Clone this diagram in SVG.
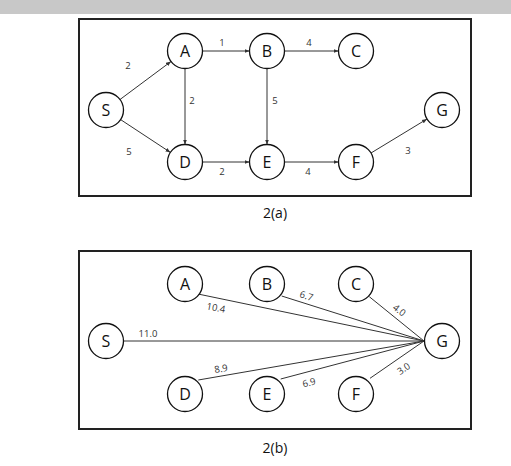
<svg xmlns="http://www.w3.org/2000/svg" width="511" height="466" viewBox="0 0 511 466">
<defs>
<marker id="arr" viewBox="0 0 10 10" refX="10" refY="5" markerWidth="5" markerHeight="5" orient="auto" markerUnits="userSpaceOnUse"><path d="M0,1 L10,5 L0,9 z" fill="#333"/></marker>
<style>
.node circle{fill:#fff;stroke:#111;stroke-width:1.3}
.node text{font-family:"Open Sans","Noto Sans",sans-serif;font-size:16px;fill:#111;text-anchor:middle;dominant-baseline:central}
.edge{stroke:#333;stroke-width:1;fill:none}
.arrow{marker-end:url(#arr)}
.lbl{font-family:"Open Sans","Noto Sans",sans-serif;font-size:9.5px;fill:#333;text-anchor:middle}
.cap{font-family:"Open Sans","Noto Sans",sans-serif;font-size:14px;fill:#111;text-anchor:middle}
.frame{fill:#fff;stroke:#222;stroke-width:2}
</style>
</defs>
<rect x="0" y="0" width="511" height="466" fill="#fff"/>
<rect x="0" y="0" width="511" height="14" fill="#c8c8c8"/>
<rect class="frame" x="79" y="19" width="392" height="177"/>
<rect class="frame" x="79" y="251" width="392" height="178"/>

<g id="connectors-a">
<line class="edge arrow" x1="120" y1="99.5" x2="171" y2="61.5"/>
<line class="edge arrow" x1="120.6" y1="119.6" x2="170.4" y2="152.4"/>
<line class="edge arrow" x1="202.5" y1="51" x2="249.5" y2="51"/>
<line class="edge arrow" x1="284.5" y1="51" x2="338.5" y2="51"/>
<line class="edge arrow" x1="185" y1="68.5" x2="185" y2="144.5"/>
<line class="edge arrow" x1="267" y1="68.5" x2="267" y2="144.5"/>
<line class="edge arrow" x1="202.5" y1="162" x2="249.5" y2="162"/>
<line class="edge arrow" x1="284.5" y1="162" x2="338.5" y2="162"/>
<line class="edge arrow" x1="371" y1="153" x2="427" y2="119"/>
<text class="lbl" x="128" y="69">2</text>
<text class="lbl" x="129" y="155">5</text>
<text class="lbl" x="222" y="46">1</text>
<text class="lbl" x="309" y="46">4</text>
<text class="lbl" x="192" y="104">2</text>
<text class="lbl" x="275" y="104">5</text>
<text class="lbl" x="222" y="175">2</text>
<text class="lbl" x="308" y="175">4</text>
<text class="lbl" x="408" y="154">3</text>
</g>

<g id="S-a" class="node"><circle cx="106" cy="110" r="17.5"/><text x="106" y="110">S</text></g>
<g id="A-a" class="node"><circle cx="185" cy="51" r="17.5"/><text x="185" y="51">A</text></g>
<g id="B-a" class="node"><circle cx="267" cy="51" r="17.5"/><text x="267" y="51">B</text></g>
<g id="C-a" class="node"><circle cx="356" cy="51" r="17.5"/><text x="356" y="51">C</text></g>
<g id="D-a" class="node"><circle cx="185" cy="162" r="17.5"/><text x="185" y="162">D</text></g>
<g id="E-a" class="node"><circle cx="267" cy="162" r="17.5"/><text x="267" y="162">E</text></g>
<g id="F-a" class="node"><circle cx="356" cy="162" r="17.5"/><text x="356" y="162">F</text></g>
<g id="G-a" class="node"><circle cx="442" cy="110" r="17.5"/><text x="442" y="110">G</text></g>
<text class="cap" x="275" y="218">2(a)</text>

<g id="connectors-b">
<line class="edge" x1="198" y1="294" x2="424" y2="341"/>
<line class="edge" x1="281.7" y1="296" x2="424" y2="341"/>
<line class="edge" x1="369.3" y1="296.7" x2="424" y2="341"/>
<line class="edge" x1="123.5" y1="341" x2="424" y2="341"/>
<line class="edge" x1="198.3" y1="380" x2="424" y2="341"/>
<line class="edge" x1="280.7" y1="379" x2="424" y2="341"/>
<line class="edge" x1="370" y1="378.3" x2="424" y2="341"/>
<text class="lbl" transform="translate(216,307.5) rotate(11)" y="3.5">10.4</text>
<text class="lbl" transform="translate(306.5,295.7) rotate(17)" y="3.5">6.7</text>
<text class="lbl" transform="translate(399.5,310) rotate(38)" y="3.5">4.0</text>
<text class="lbl" x="148" y="337">11.0</text>
<text class="lbl" transform="translate(221,368.5) rotate(-10)" y="3.5">8.9</text>
<text class="lbl" transform="translate(309,382.5) rotate(-15)" y="3.5">6.9</text>
<text class="lbl" transform="translate(403.5,368.5) rotate(-34)" y="3.5">3.0</text>
</g>

<g id="S-b" class="node"><circle cx="106" cy="341" r="17.5"/><text x="106" y="341">S</text></g>
<g id="A-b" class="node"><circle cx="185" cy="284" r="17.5"/><text x="185" y="284">A</text></g>
<g id="B-b" class="node"><circle cx="267" cy="284" r="17.5"/><text x="267" y="284">B</text></g>
<g id="C-b" class="node"><circle cx="356" cy="284" r="17.5"/><text x="356" y="284">C</text></g>
<g id="D-b" class="node"><circle cx="185" cy="394" r="17.5"/><text x="185" y="394">D</text></g>
<g id="E-b" class="node"><circle cx="267" cy="394" r="17.5"/><text x="267" y="394">E</text></g>
<g id="F-b" class="node"><circle cx="356" cy="394" r="17.5"/><text x="356" y="394">F</text></g>
<g id="G-b" class="node"><circle cx="442" cy="341" r="17.5"/><text x="442" y="341">G</text></g>
<text class="cap" x="275" y="453">2(b)</text>
</svg>
